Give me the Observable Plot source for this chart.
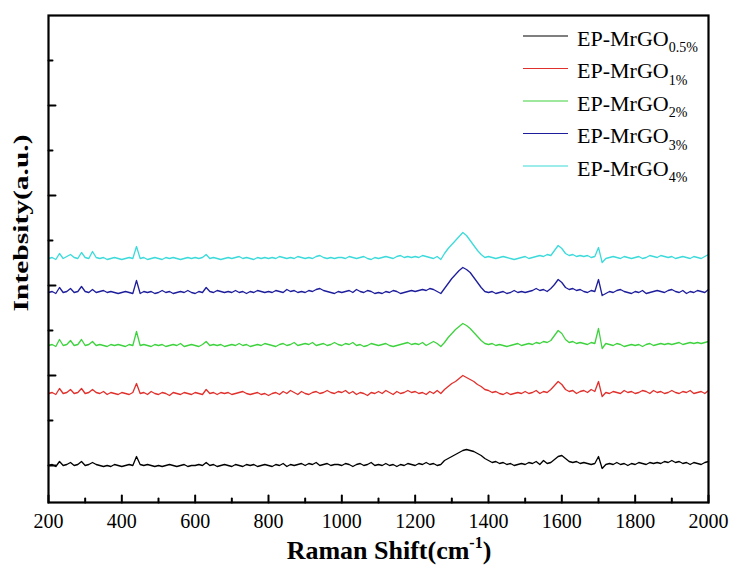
<!DOCTYPE html>
<html><head><meta charset="utf-8">
<script src="https://cdn.jsdelivr.net/npm/d3@7"></script>
<script src="https://cdn.jsdelivr.net/npm/@observablehq/plot@0.6"></script>
<style>
body{margin:0;background:#fff}
#chart{position:relative;width:730px;height:566px}
#chart svg text{font-family:"Liberation Serif","Times New Roman",serif}
</style>
</head><body><div id="chart"></div>
<script>
// Raman shift grid (cm^-1), one reading every 10 cm^-1 from 200 to 2000
const shifts = d3.range(200, 2001, 10);

const seriesNames = ["EP-MrGO0.5%", "EP-MrGO1%", "EP-MrGO2%", "EP-MrGO3%", "EP-MrGO4%"];
const seriesBase = "EP-MrGO";
const seriesSubs = ["0.5%", "1%", "2%", "3%", "4%"];
const seriesColors = ["#000000", "#e0302c", "#3ed23e", "#1e1e9c", "#3cdada"];
// vertical stacking offsets (a.u.)
const seriesOffsets = [0, 72, 120, 173, 207];

// intensities (a.u.) relative to each spectrum's baseline, rows = 100 cm^-1
const int05 = [
  0, 1, -1, 4, 0, 1, 3, 0, 1, 4,
  0, 1, 3, 1, 0, -1, 0, -1, 1, 0,
  -1, 0, 1, 0, 9, 1, 0, 1, 0, -1,
  0, -1, 0, 1, 0, -1, 0, 1, -1, 0,
  0, 1, 0, 3, 0, 1, -1, 0, 1, 0,
  -1, 1, 0, -1, 1, 0, 1, -1, 0, 1,
  0, -1, 1, 0, 2, -1, 1, 0, 1, 2,
  0, 2, 1, 3, 0, 1, 2, 0, 1, 1,
  0, 2, 1, -1, 1, 2, 0, 1, 3, 0,
  1, 0, 2, 0, 1, -1, 1, 0, 2, 1,
  0, 2, 1, 3, 1, 2, 0, 1, 5, 7,
  9, 11, 13, 15, 16, 15, 14, 12, 10, 7,
  5, 3, 4, 2, 3, 1, 2, 0, 1, 2,
  1, 3, 2, 4, 1, 5, 2, 3, 6, 9,
  10, 7, 4, 3, 4, 2, 3, 2, 1, 2,
  9, -3, 1, 2, 1, 3, 1, 2, 0, 2,
  1, 3, 2, 1, 3, 2, 3, 2, 4, 3,
  5, 3, 4, 2, 3, 1, 3, 2, 1, 3,
  4
];
const int1 = [
  0, 1, -1, 5, 0, 1, 4, 0, 1, 5,
  0, 1, 4, 1, 0, 2, -1, 1, 0, -1,
  1, 0, -1, 1, 10, 0, 1, -1, 2, 0,
  -1, 1, 0, -2, 1, 0, -1, 1, 0, -1,
  1, 0, -1, 4, 0, 1, -1, 1, 0, 1,
  -1, 0, 1, 2, 0, -1, 0, 1, -1, 0,
  -2, 0, 1, -1, 2, 0, 3, 1, -1, 2,
  0, -1, 1, 2, 0, 1, 3, 1, 0, 2,
  1, 3, 0, 2, -1, 1, 0, -2, 1, 0,
  2, 0, 3, 1, -1, 2, 0, 1, 3, 1,
  2, 0, 1, -1, 2, 0, 3, 0, 4, 7,
  10, 12, 15, 18, 16, 14, 12, 9, 7, 4,
  3, 1, 2, 0, -1, 1, -1, 0, 1, 0,
  2, 0, 1, 3, 0, 2, 1, 4, 8, 12,
  9, 4, 2, 3, 0, 2, 3, 1, 4, 2,
  12, -3, 1, 0, 2, 1, 0, 3, 1, 2,
  0, 1, 3, 2, 0, 3, 1, 2, 0, 1,
  3, 1, 0, 2, 1, 3, 0, 1, 2, 0,
  3
];
const int2 = [
  0, 1, -1, 6, 0, 1, 5, 0, 1, 6,
  0, 1, 4, 0, 1, 0, -1, 1, 0, 1,
  0, -1, 1, 0, 14, 0, 1, 0, -1, 1,
  0, 1, -1, 0, 1, 0, 2, -1, 0, 1,
  0, -1, 1, 4, 0, 1, 0, 1, -1, 0,
  1, 0, 2, 0, 1, -1, 0, 1, 0, 2,
  1, 0, -1, 1, 2, 0, 1, 3, 0, 1,
  2, 1, 3, 0, 1, 2, 0, 1, 3, 1,
  0, 2, 1, 3, 0, 1, -1, 0, 2, 1,
  0, 1, 2, 0, -1, 0, 1, 2, 3, 1,
  2, 1, 3, 0, 2, 4, 2, -1, 3, 8,
  12, 16, 19, 22, 20, 17, 13, 9, 5, 2,
  1, 2, 0, 1, 0, -1, 0, 1, 2, 0,
  1, 2, 1, 3, 2, 4, 3, 5, 10, 15,
  12, 6, 3, 4, 2, 3, 2, 1, 3, 2,
  17, -3, 2, 1, 0, 2, 1, -1, 0, 1,
  0, 1, -1, 1, 2, 0, 1, 2, 1, 2,
  1, 2, 3, 1, 2, 3, 2, 3, 2, 3,
  4
];
const int3 = [
  0, 1, -1, 5, 0, 1, 4, 0, 1, 6,
  1, 0, 3, 0, 1, 2, 0, 1, 0, -1,
  0, 1, 0, -1, 12, -1, 1, 0, 1, -1,
  0, 2, 0, 1, -1, 0, 1, 0, 2, 0,
  -1, 1, 0, 5, 1, 0, 2, 1, 0, 1,
  0, 2, 0, 1, -1, 1, 0, 2, 1, 0,
  1, 0, 2, 1, 0, 3, 1, 2, 0, 1,
  0, 2, 1, 3, 4, 2, 1, 0, -1, 1,
  0, 1, 2, 0, 3, 1, 0, 2, 1, -1,
  0, -1, 1, 0, 2, 1, -1, 0, 1, 2,
  1, 2, 3, 2, 4, 3, 1, -1, 4, 9,
  14, 18, 22, 25, 23, 20, 15, 10, 5, 1,
  0, 1, -1, 0, 1, -1, 0, 2, 0, 1,
  0, 1, 2, 4, 2, 3, 1, 4, 8, 13,
  10, 5, 3, 4, 2, 3, 1, 0, 2, 1,
  13, -3, -1, 1, 0, 2, 3, 1, 0, -1,
  1, 0, 2, -1, 0, 1, 2, 1, 0, 2,
  3, 1, 0, 2, -1, 1, 0, 2, 1, 0,
  3
];
const int4 = [
  0, 1, -1, 5, 0, 2, 4, 1, 0, 6,
  1, 0, 7, 1, 0, 1, -1, 0, 1, 0,
  -1, 0, 1, 0, 12, 0, 1, -1, 0, 1,
  0, -1, 1, 0, 1, 0, -1, 0, 1, 0,
  1, 0, 1, 4, 0, 1, 0, -1, 0, 1,
  0, 1, 2, 0, 1, 0, -1, 1, 0, 1,
  0, 1, 0, 2, 1, 0, 1, 0, 2, 1,
  0, 1, 0, 2, 3, 1, 0, 1, 0, 1,
  1, 0, 2, 1, 0, 1, 2, 0, -1, 1,
  0, 1, 2, 1, 0, 2, 3, 1, 2, 1,
  2, 1, 3, 2, 1, 0, 2, -1, 5, 10,
  14, 18, 22, 26, 23, 18, 13, 8, 4, 1,
  2, 1, 0, 1, 2, 1, 0, -1, 0, 1,
  2, 0, 1, 2, 3, 2, 4, 3, 8, 13,
  10, 5, 3, 4, 2, 3, 2, 3, 1, 2,
  11, -4, 0, 1, 2, 1, 0, 2, 1, 0,
  1, 2, 0, 1, 3, 2, 1, 3, 2, 1,
  2, 0, 1, 2, 1, 0, 2, 1, 0, 2,
  4
];
const seriesValues = [int05, int1, int2, int3, int4];

const xTicksMajor = [200, 400, 600, 800, 1000, 1200, 1400, 1600, 1800, 2000];
const xTicksMinor = [300, 500, 700, 900, 1100, 1300, 1500, 1700, 1900];
const yTicksMajor = [0, 90, 180, 270, 360];
const yTicksMinor = [45, 135, 225, 315, 405];
const yDomain = [-37, 450];

const rows = [];
seriesNames.forEach((name, s) => {
  seriesValues[s].forEach((v, i) => rows.push({series: name, shift: shifts[i], intensity: seriesOffsets[s] + v}));
});

const tickUp = {draw(context, l) { context.moveTo(0, 0); context.lineTo(0, -l); }};
const serif = "Liberation Serif";

const chart = Plot.plot({
  width: 730,
  height: 566,
  marginLeft: 48,
  marginRight: 22,
  marginTop: 15,
  marginBottom: 64,
  style: {fontFamily: serif, background: "#fff", color: "#000"},
  x: {domain: [200, 2000], label: null},
  y: {domain: yDomain, axis: null},
  color: {domain: seriesNames, range: seriesColors},
  marks: [
    Plot.line(rows, {x: "shift", y: "intensity", z: "series", stroke: "series", strokeWidth: 1.3, curve: "linear"}),
    Plot.vector(xTicksMajor, {x: d => d, y: yDomain[0], length: 7, rotate: 0, anchor: "start", shape: tickUp, stroke: "#000", strokeWidth: 2}),
    Plot.vector(xTicksMinor, {x: d => d, y: yDomain[0], length: 4, rotate: 0, anchor: "start", shape: tickUp, stroke: "#000", strokeWidth: 2}),
    Plot.vector(yTicksMajor, {y: d => d, x: 200, length: 7, rotate: 90, anchor: "start", shape: tickUp, stroke: "#000", strokeWidth: 2}),
    Plot.vector(yTicksMinor, {y: d => d, x: 200, length: 4, rotate: 90, anchor: "start", shape: tickUp, stroke: "#000", strokeWidth: 2}),
    Plot.axisX({ticks: xTicksMajor, tickSize: 0, tickPadding: 11, tickFormat: d => String(d), label: null, fontSize: 20, fontFamily: serif}),
    Plot.frame({stroke: "#000", strokeWidth: 2.2})
  ]
});
document.getElementById("chart").appendChild(chart);

const svg = d3.select(chart);
// x-axis title
const xt = svg.append("text").attr("x", 389).attr("y", 559).attr("text-anchor", "middle")
  .attr("font-family", serif).attr("font-weight", "bold").attr("font-size", 26).attr("fill", "#000");
xt.append("tspan").text("Raman Shift(cm");
xt.append("tspan").attr("font-size", 16).attr("dy", -11).text("-1");
xt.append("tspan").attr("dy", 11).text(")");
// y-axis title
svg.append("text").attr("transform", "translate(28,223) rotate(-90)").attr("text-anchor", "middle")
  .attr("font-family", serif).attr("font-weight", "bold").attr("font-size", 22).attr("fill", "#000")
  .attr("textLength", 177).attr("lengthAdjust", "spacingAndGlyphs")
  .text("Intebsity(a.u.)");
// legend
const lg = svg.append("g");
seriesNames.forEach((name, i) => {
  const y = 36 + i * 32.5;
  lg.append("line").attr("x1", 523).attr("x2", 568).attr("y1", y).attr("y2", y)
    .attr("stroke", seriesColors[i]).attr("stroke-width", 1.1);
  const t = lg.append("text").attr("x", 577).attr("y", y + 9.5).attr("text-anchor", "start")
    .attr("font-family", serif).attr("font-size", 22).attr("fill", "#000");
  t.append("tspan").text(seriesBase);
  t.append("tspan").attr("font-size", 14).attr("dy", 6.5).text(seriesSubs[i]);
});
</script>
</body></html>
